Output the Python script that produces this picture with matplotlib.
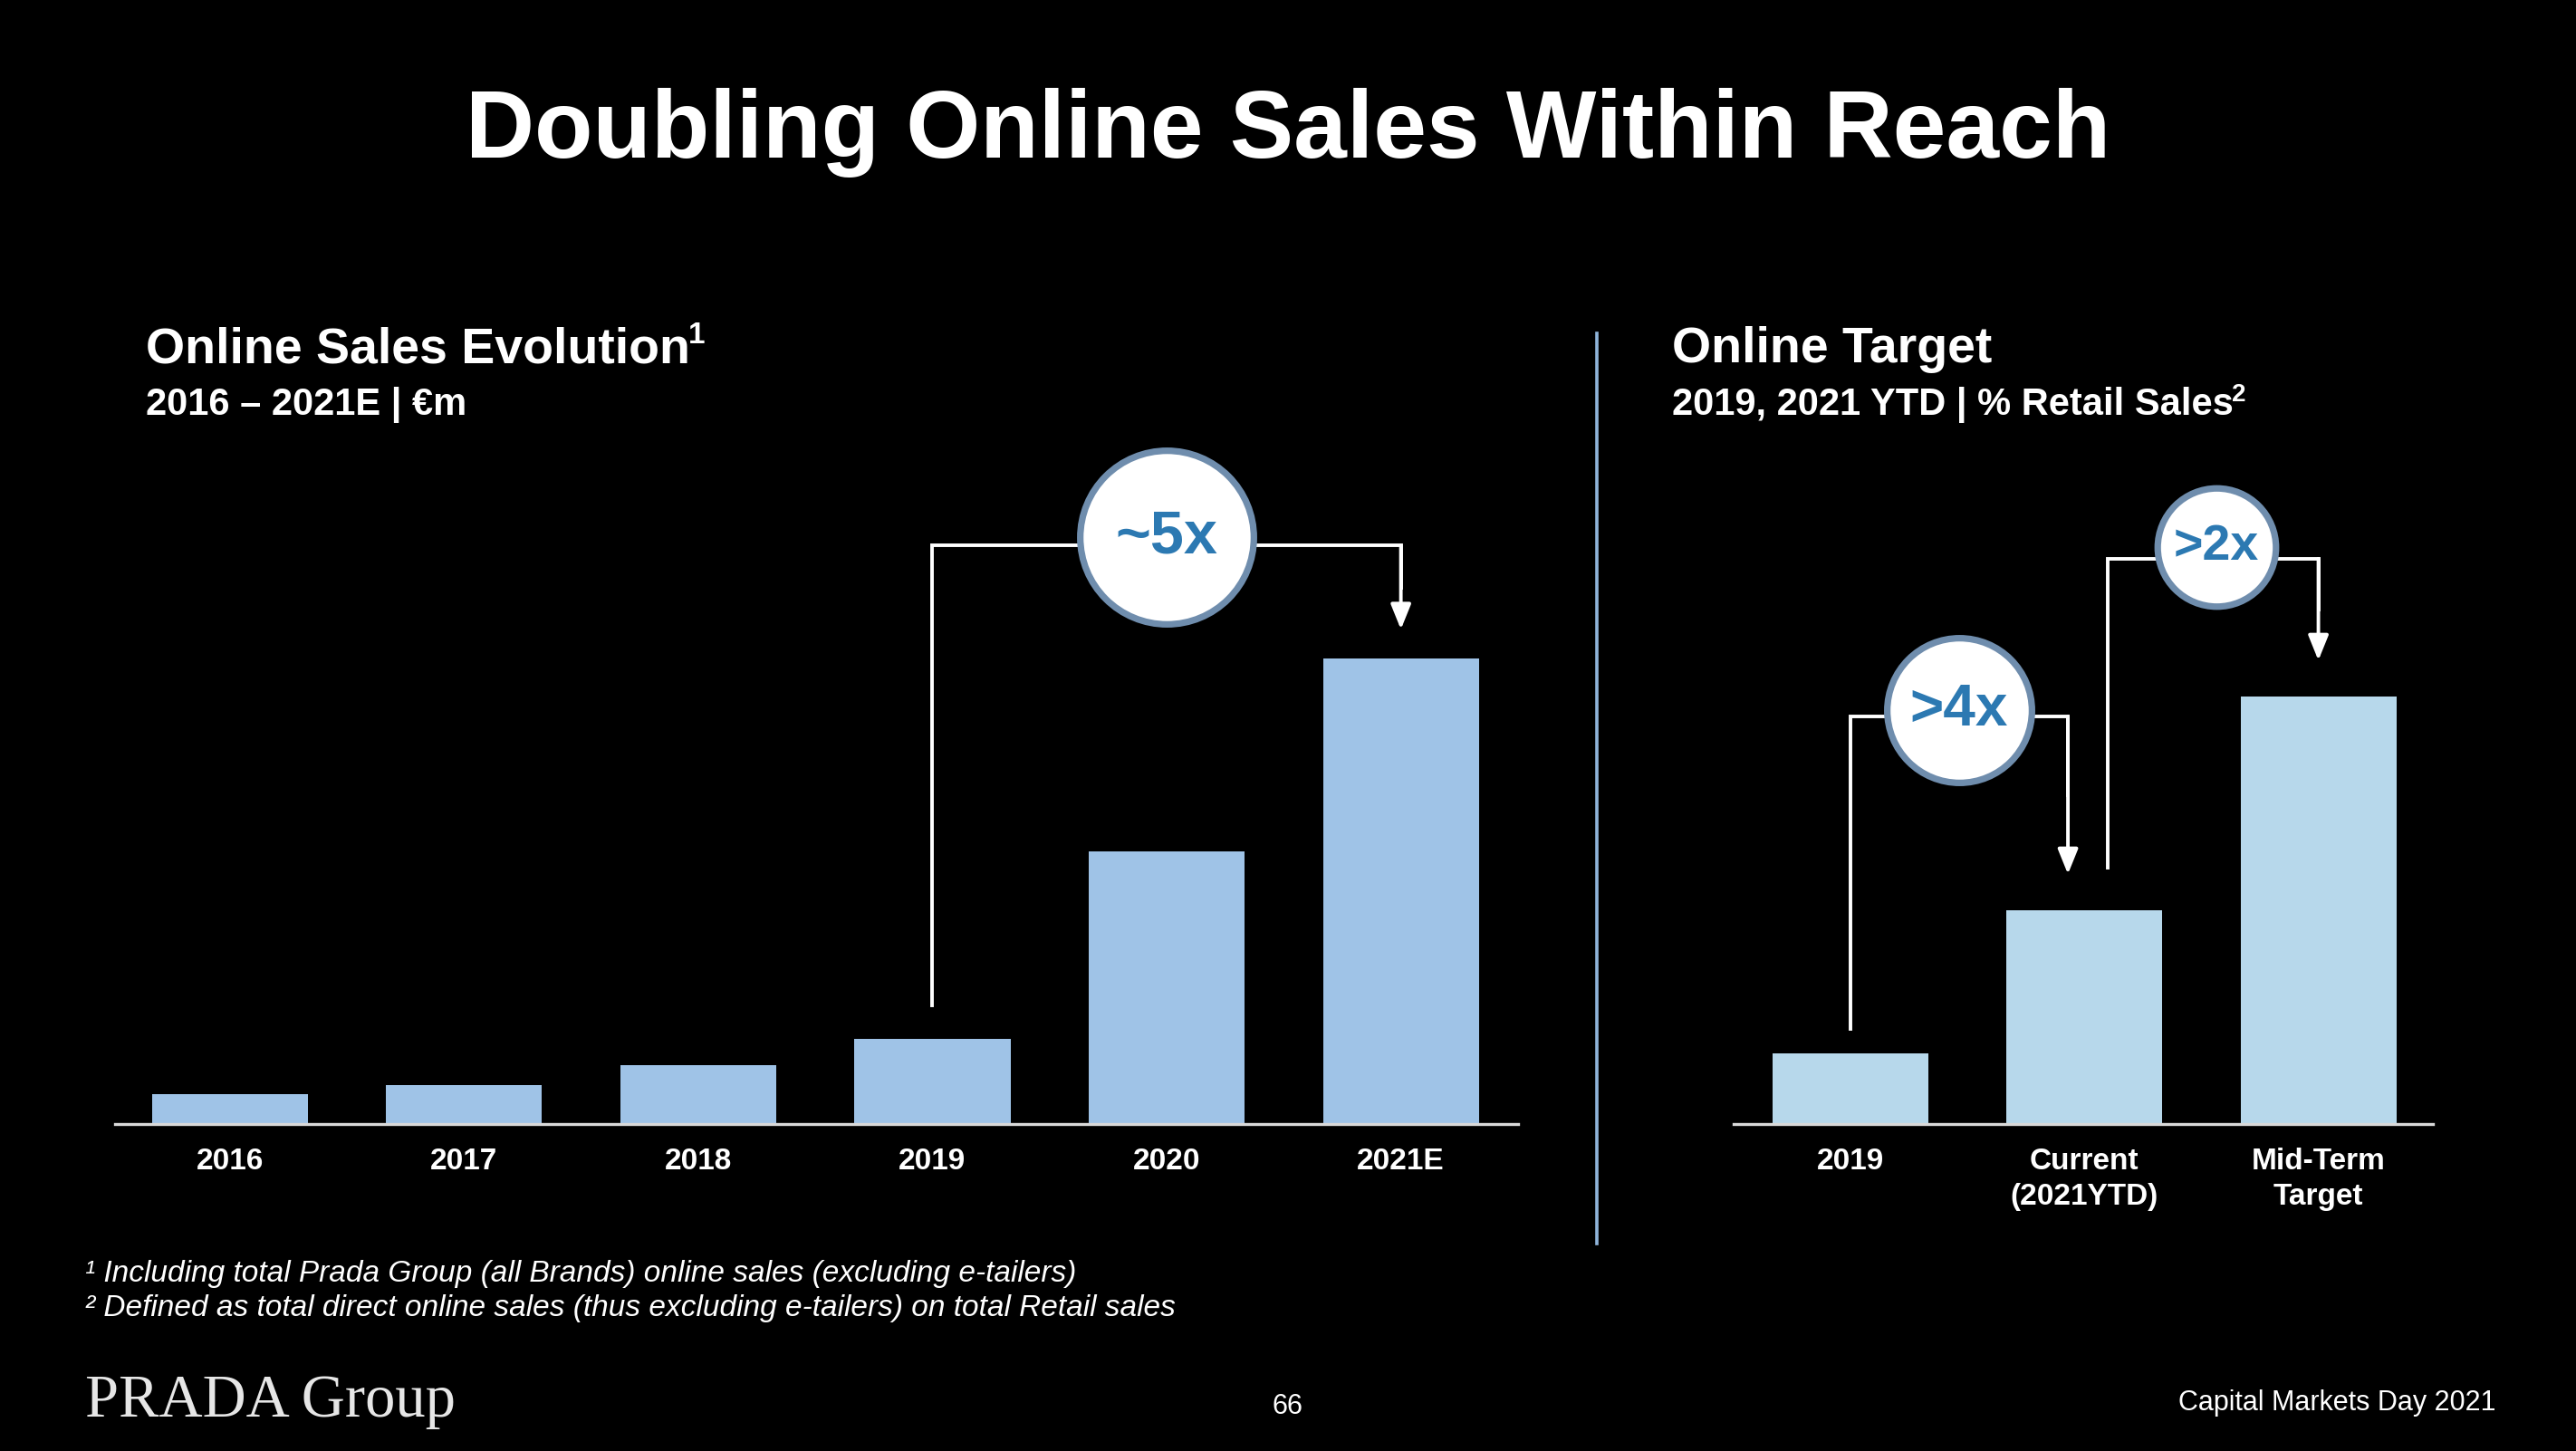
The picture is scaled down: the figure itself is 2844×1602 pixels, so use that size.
import matplotlib
matplotlib.use("Agg")
import matplotlib.pyplot as plt
from matplotlib.lines import Line2D

# ---------------- data ----------------
years = ["2016", "2017", "2018", "2019", "2020", "2021E"]
online_sales = [34, 45, 68, 98, 313, 534]          # €m

target_labels = ["2019", "Current\n(2021YTD)", "Mid-Term\nTarget"]
target_share = [3.3, 10.0, 20.0]                   # % of retail sales (estimated)

left_multiplier = "~5x"
right_multipliers = [">4x", ">2x"]

# ---------------- style ----------------
plt.rcParams["font.family"] = ["Liberation Sans", "DejaVu Sans"]
BG = "black"
LEFT_BAR = "#9FC3E7"
RIGHT_BAR = "#B7D8EB"
BUBBLE_EDGE = "#6F8DAD"
BUBBLE_TEXT = "#2C79B2"
W, H = 1568.0, 883.0


def fx(x):
    return x / W


def fy(y):
    return 1 - y / H


fig = plt.figure(figsize=(14.22, 8.01), dpi=200, facecolor=BG)
renderer = fig.canvas.get_renderer()


def with_sup(x, y, text, sup, fs, sfs, rise):
    t = fig.text(fx(x), fy(y), text, ha="left", va="center", fontsize=fs,
                 fontweight="bold", color="white")
    bb = t.get_window_extent(renderer=renderer)
    x_end = bb.x1 / fig.bbox.width
    fig.text(x_end - fx(1.5), fy(y - rise), sup, ha="left", va="center", fontsize=sfs,
             fontweight="bold", color="white")


# title
fig.text(fx(784), fy(81), "Doubling Online Sales Within Reach", ha="center", va="center",
         fontsize=38, fontweight="bold", color="white")

# section headers
with_sup(89, 213, "Online Sales Evolution", "1", 20, 12, 9)
fig.text(fx(89), fy(246.5), "2016 \u2013 2021E | \u20acm", ha="left", va="center",
         fontsize=15, fontweight="bold", color="white")
fig.text(fx(1018), fy(213), "Online Target", ha="left", va="center",
         fontsize=20, fontweight="bold", color="white")
with_sup(1018, 246.5, "2019, 2021 YTD | % Retail Sales", "2", 15, 10, 6)

# divider
fig.add_artist(Line2D([fx(972), fx(972)], [fy(203), fy(757)], color="#8FB4DA", lw=1.3))

# footnotes
fig.text(fx(52), fy(775), "\u00b9 Including total Prada Group (all Brands) online sales (excluding e-tailers)",
         ha="left", va="center", fontsize=12, style="italic", color="white")
fig.text(fx(52), fy(796), "\u00b2 Defined as total direct online sales (thus excluding e-tailers) on total Retail sales",
         ha="left", va="center", fontsize=12, style="italic", color="white")

# footer
fig.text(fx(52), fy(862), "PRADA Group", ha="left", va="baseline", fontsize=24,
         family=["Liberation Serif", "DejaVu Serif"], color="#E6E6E6")
fig.text(fx(784), fy(856), "66", ha="center", va="center", fontsize=11, color="white")
fig.text(fx(1519), fy(854), "Capital Markets Day 2021", ha="right", va="center", fontsize=11, color="white")

# ---------------- axes ----------------
base_y = 684
top_y = 260
ax_h = (base_y - top_y) / H
axL = fig.add_axes([fx(70), fy(base_y), fx(924) - fx(70), ax_h])
axR = fig.add_axes([fx(1055), fy(base_y), fx(1481) - fx(1055), ax_h])


def style_axis(ax, labels):
    ax.set_facecolor("none")
    for s in ["top", "right", "left"]:
        ax.spines[s].set_visible(False)
    ax.spines["bottom"].set_color("#D9D9D9")
    ax.spines["bottom"].set_linewidth(1.2)
    ax.set_yticks([])
    ax.set_xticks(range(len(labels)))
    ax.set_xticklabels(labels, fontsize=12, fontweight="bold", color="white", linespacing=1.3)
    ax.tick_params(axis="x", length=0, pad=9.5)


LEFT_MAX = 800.0
RIGHT_MAX = 32.6
xL = list(range(len(years)))
axL.bar(xL, online_sales, width=0.666, color=LEFT_BAR, zorder=2)
axL.set_xlim(-0.49, 5.5)
axL.set_ylim(0, LEFT_MAX)
style_axis(axL, years)

xR = list(range(len(target_labels)))
axR.bar(xR, target_share, width=0.666, color=RIGHT_BAR, zorder=2)
axR.set_xlim(-0.5, 2.49)
axR.set_ylim(0, RIGHT_MAX)
style_axis(axR, target_labels)


def px(ax, n):
    """convert reference pixels (vertical) to data units for the axis"""
    lo, hi = ax.get_ylim()
    return n * (hi - lo) / (base_y - top_y)


def connector(ax, x0, y0, x1, yh, ytip, bx, by, text, ms, fs):
    ax.plot([x0, x0, x1, x1], [y0, yh, yh, yh - (yh - ytip) * 0.5], color="white", lw=1.4,
            clip_on=False, zorder=4, solid_joinstyle="miter")
    ax.annotate("", xy=(x1, ytip), xytext=(x1, yh),
                arrowprops=dict(arrowstyle="-|>,head_length=0.42,head_width=0.17", color="white",
                                lw=1.4, mutation_scale=20, shrinkA=0, shrinkB=0),
                annotation_clip=False, zorder=4)
    ax.plot([bx], [by], "o", ms=ms, mfc="white", mec=BUBBLE_EDGE, mew=2.6, clip_on=False, zorder=5)
    ax.text(bx, by, text, ha="center", va="center", fontsize=fs, fontweight="bold",
            color=BUBBLE_TEXT, zorder=6)


# left: 2019 -> 2021E
connector(axL, 3, online_sales[3] + px(axL, 20), 5, px(axL, 352),
          online_sales[5] + px(axL, 18), 4, px(axL, 357), left_multiplier, 69, 24)

# right: 2019 -> current
connector(axR, 0, target_share[0] + px(axR, 15), 0.93, px(axR, 248),
          target_share[1] + px(axR, 22), 0.465, px(axR, 252), right_multipliers[0], 57.5, 23)
# right: current -> mid-term
connector(axR, 1.10, target_share[1] + px(axR, 26), 2.0, px(axR, 344),
          target_share[2] + px(axR, 22), 1.565, px(axR, 351), right_multipliers[1], 47, 20)

fig.savefig("out.png", dpi=200, facecolor=BG)
